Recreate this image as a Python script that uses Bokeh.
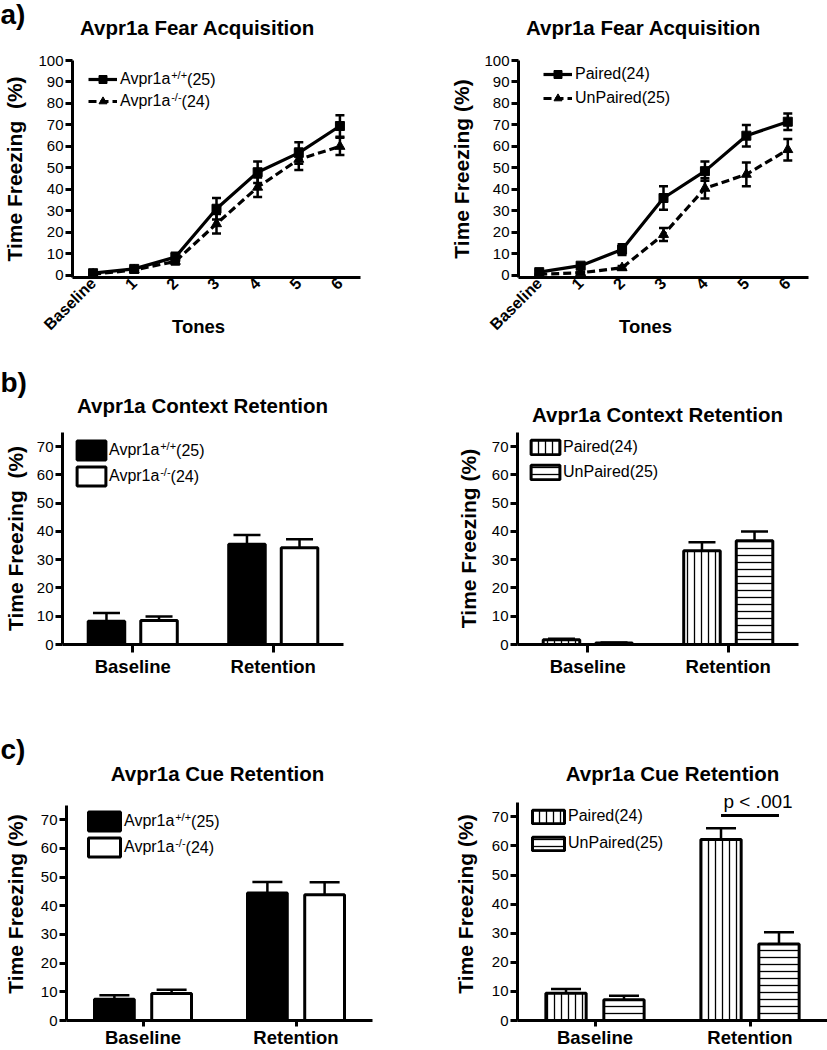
import math
from bokeh.plotting import figure
from bokeh.models import (ColumnDataSource, FactorRange, Range1d, Whisker, TeeHead,
                          Legend, LegendItem, Label)
from bokeh.transform import dodge
from bokeh.layouts import column, row
from bokeh.embed import file_html
from bokeh.resources import INLINE

# ---------------- data ----------------
tones = ["Baseline", "1", "2", "3", "4", "5", "6"]
acq_wt_mean = [1.0, 3.0, 8.5, 31.0, 48.0, 57.0, 69.5]
acq_wt_sem = [0.5, 1.0, 2.0, 5.0, 5.0, 5.0, 5.0]
acq_ko_mean = [0.5, 2.5, 6.5, 24.0, 41.0, 54.0, 60.0]
acq_ko_sem = [0.5, 1.0, 1.5, 4.5, 4.5, 5.0, 4.0]
acq_paired_mean = [1.5, 4.5, 12.0, 36.0, 48.5, 65.0, 71.5]
acq_paired_sem = [0.8, 1.0, 2.5, 5.5, 4.5, 5.0, 3.8]
acq_unpaired_mean = [0.5, 1.2, 3.5, 19.0, 40.5, 47.0, 58.5]
acq_unpaired_sem = [0.3, 0.5, 0.8, 3.0, 4.7, 5.5, 5.0]

phases = ["Baseline", "Retention"]
ctx_wt = [8.2, 35.5]
ctx_wt_sem = [2.9, 3.2]
ctx_ko = [8.5, 34.2]
ctx_ko_sem = [1.4, 3.0]
ctx_paired = [1.7, 33.2]
ctx_paired_sem = [0.3, 3.0]
ctx_unpaired = [0.5, 36.7]
ctx_unpaired_sem = [0.2, 3.3]
cue_wt = [7.4, 44.4]
cue_wt_sem = [1.4, 3.9]
cue_ko = [9.4, 43.8]
cue_ko_sem = [1.3, 4.4]
cue_paired = [9.4, 62.2]
cue_paired_sem = [1.4, 3.9]
cue_unpaired = [7.1, 26.3]
cue_unpaired_sem = [1.4, 4.0]

sig_phase = ["Retention"]
sig_level = [70.5]
sig_text = "p < .001"

wt_label = ("Avpr1a", "+/+", "(25)")
ko_label = ("Avpr1a", "-/-", "(24)")
paired_label = "Paired(24)"
unpaired_label = "UnPaired(25)"

titles_row1 = ["Avpr1a Fear Acquisition", "Avpr1a Fear Acquisition"]
titles_row2 = ["Avpr1a Context Retention", "Avpr1a Context Retention"]
titles_row3 = ["Avpr1a Cue Retention", "Avpr1a Cue Retention"]

NBSP = "\u00a0"
YLAB_WIDE = "Time Freezing" + NBSP + " (%)"
YLAB = "Time Freezing (%)"
XLAB_TONES = "Tones" + NBSP * 7   # trailing blanks shift the centred word left

FONT = "Liberation Sans"
LEG_FS = 16
SUP_FS = 11
ARIAL = {"A": 667, "v": 500, "p": 556, "r": 333, "1": 556, "a": 556, "+": 584,
         "/": 278, "-": 333}


def text_w(s, fs):
    return sum(ARIAL.get(c, 556) for c in s) * fs / 1000.0


def make_fig(width, height, xr, yr, mb):
    p = figure(width=width, height=height, x_range=xr, y_range=yr,
               output_backend="svg", toolbar_location=None,
               min_border_left=mb[0], min_border_right=mb[1],
               min_border_top=mb[2], min_border_bottom=mb[3])
    p.outline_line_color = None
    p.grid.visible = False
    p.background_fill_color = "white"
    p.border_fill_color = "white"
    for ax in (p.xaxis, p.yaxis):
        ax.axis_line_width = 3
        ax.axis_line_color = "black"
        ax.major_tick_line_width = 3
        ax.major_tick_line_color = "black"
        ax.major_tick_in = 0
        ax.minor_tick_line_color = None
        ax.major_label_text_font = FONT
        ax.major_label_text_color = "black"
        ax.axis_label_text_font = FONT
        ax.axis_label_text_font_style = "bold"
        ax.axis_label_text_color = "black"
    p.yaxis.major_tick_out = 7
    p.yaxis.major_label_standoff = 2
    p.yaxis.major_label_text_font_size = "15px"
    p.yaxis.axis_label_text_font_size = "21px"
    return p


def add_text(p, x, y, text, size, bold=False, align="center", baseline="middle"):
    p.add_layout(Label(x=x, y=y, x_units="screen", y_units="screen", text=text,
                       text_font=FONT, text_font_size=size,
                       text_font_style="bold" if bold else "normal",
                       text_align=align, text_baseline=baseline, text_color="black"))


def add_super_parts(p, text_x, row_y, parts):
    base, sup, tail = parts
    sx = text_x + text_w(base, LEG_FS)
    add_text(p, sx, row_y + 5, sup, f"{SUP_FS}px", align="left")
    add_text(p, sx + text_w(sup, SUP_FS), row_y, tail, f"{LEG_FS}px", align="left")


def strip(height, letter, letter_y, titles, title_pos):
    # a text band (frame covers the whole canvas); positions in pixels from the
    # band's top-left corner
    p = figure(width=827, height=height, x_range=Range1d(0, 827),
               y_range=Range1d(0, height), x_axis_type=None, y_axis_type=None,
               output_backend="svg", toolbar_location=None,
               min_border_left=0, min_border_right=0, min_border_top=0,
               min_border_bottom=0)
    p.outline_line_color = None
    p.grid.visible = False
    add_text(p, 0, height - letter_y, letter, "28px", bold=True, align="left")
    for t, (tx, ty) in zip(titles, title_pos):
        add_text(p, tx, height - ty, t, "20.5px", bold=True)
    return p


def line_panel(width, mb, series, ylabel, ylab_standoff, leg_pos, leg_spacing,
               super_labels=False):
    p = make_fig(width, 292, FactorRange(*tones), Range1d(-1, 100), mb)
    p.yaxis.ticker = list(range(0, 101, 10))
    p.yaxis.axis_label = ylabel
    p.yaxis.axis_label_standoff = ylab_standoff
    p.xaxis.major_tick_line_color = None
    p.xaxis.major_tick_out = 0
    p.xaxis.major_label_standoff = 3
    p.xaxis.major_label_orientation = math.pi / 4
    p.xaxis.major_label_text_font_size = "16px"
    p.xaxis.major_label_text_font_style = "bold"
    p.xaxis.axis_label = XLAB_TONES
    p.xaxis.axis_label_text_font_size = "18.5px"
    p.xaxis.axis_label_standoff = -26
    items = []
    for mean, sem, marker, dash, size, lab in series:
        src = ColumnDataSource(dict(tone=tones, m=mean,
                                    lo=[a - b for a, b in zip(mean, sem)],
                                    hi=[a + b for a, b in zip(mean, sem)]))
        p.add_layout(Whisker(source=src, base="tone", lower="lo", upper="hi",
                             line_width=2.5, line_color="black",
                             upper_head=TeeHead(size=9, line_width=2.5, line_color="black"),
                             lower_head=TeeHead(size=9, line_width=2.5, line_color="black")))
        lr = p.line("tone", "m", source=src, line_width=3.2, line_color="black",
                    line_dash=dash)
        sr = p.scatter("tone", "m", source=src, marker=marker, size=size,
                       fill_color="black", line_color="black")
        items.append(LegendItem(label=lab, renderers=[lr, sr]))
    leg = Legend(items=items, location=leg_pos, glyph_width=29, glyph_height=20,
                 label_height=10, label_standoff=3, spacing=leg_spacing, padding=0,
                 margin=0, border_line_color=None, background_fill_alpha=0,
                 label_text_font=FONT, label_text_font_size=f"{LEG_FS}px",
                 label_text_color="black")
    p.add_layout(leg)
    if super_labels:
        tx = leg_pos[0] + 29 + 3
        top = leg_pos[1] + 40 + leg_spacing
        add_super_parts(p, tx, top - 10, wt_label)
        add_super_parts(p, tx, top - 30 - leg_spacing, ko_label)
    return p


def bar_panel(width, height, mb, yr, a_vals, a_sem, b_vals, b_sem, styles, labels,
              ylabel, ylab_standoff, leg_pos, glyph, leg_spacing, cap, tick_out,
              lab_standoff, super_labels=False, sig=False):
    p = make_fig(width, height, FactorRange(*phases), Range1d(0, yr), mb)
    p.yaxis.ticker = list(range(0, 71, 10))
    p.yaxis.bounds = (0, 75)
    p.yaxis.axis_label = ylabel
    p.yaxis.axis_label_standoff = ylab_standoff
    p.xaxis.major_tick_out = tick_out
    p.xaxis.major_label_standoff = lab_standoff
    p.xaxis.major_label_text_font_size = "18.5px"
    p.xaxis.major_label_text_font_style = "bold"
    src = ColumnDataSource(dict(phase=phases, a=a_vals, b=b_vals,
                                a_hi=[v + s for v, s in zip(a_vals, a_sem)],
                                b_hi=[v + s for v, s in zip(b_vals, b_sem)]))
    off, bw = 0.187, 0.26
    rends = []
    for col, sgn, st in (("a", -1, styles[0]), ("b", 1, styles[1])):
        r = p.vbar(x=dodge("phase", sgn * off, range=p.x_range), top=col, width=bw,
                   source=src, line_color="black", line_width=3, **st)
        rends.append(r)
        p.add_layout(Whisker(source=src, base=dodge("phase", sgn * off, range=p.x_range),
                             lower=col, upper=col + "_hi", line_width=2.5,
                             line_color="black", lower_head=None,
                             upper_head=TeeHead(size=cap, line_width=2.5,
                                                line_color="black")))
    labs = [labels[0][0], labels[1][0]] if super_labels else labels
    leg = Legend(items=[LegendItem(label=labs[0], renderers=[rends[0]]),
                        LegendItem(label=labs[1], renderers=[rends[1]])],
                 location=leg_pos, glyph_width=glyph[0], glyph_height=glyph[1],
                 label_height=10, label_standoff=0, spacing=leg_spacing, padding=0,
                 margin=0, border_line_color=None, background_fill_alpha=0,
                 label_text_font=FONT, label_text_font_size=f"{LEG_FS}px",
                 label_text_color="black")
    p.add_layout(leg)
    if super_labels:
        tx = leg_pos[0] + glyph[0]
        top = leg_pos[1] + 2 * glyph[1] + leg_spacing
        add_super_parts(p, tx, top - glyph[1] / 2, labels[0])
        add_super_parts(p, tx, top - glyph[1] * 1.5 - leg_spacing, labels[1])
    if sig:
        ssrc = ColumnDataSource(dict(phase=sig_phase, y=sig_level))
        p.segment(x0=dodge("phase", -off, range=p.x_range), y0="y",
                  x1=dodge("phase", off, range=p.x_range), y1="y",
                  source=ssrc, line_width=3, line_color="black")
        p.add_layout(Label(x=phases.index(sig_phase[0]) + 0.5, y=sig_level[0],
                           x_offset=8, y_offset=3, text=sig_text, text_font=FONT,
                           text_font_size="19px", text_align="center",
                           text_baseline="bottom", text_color="black"))
    return p


HATCH_V = dict(fill_color="white", hatch_pattern="vertical_line", hatch_scale=7,
               hatch_weight=1.3, hatch_color="black")
HATCH_H = dict(fill_color="white", hatch_pattern="horizontal_line", hatch_scale=7,
               hatch_weight=1.3, hatch_color="black")
SOLID_B = dict(fill_color="black")
SOLID_W = dict(fill_color="white")

s1 = strip(48, "a)", 14, titles_row1, [(197, 27), (643, 27)])
pa1 = line_panel(410, (71, 50, 12, 63),
                 [(acq_wt_mean, acq_wt_sem, "square", "solid", 9, wt_label[0]),
                  (acq_ko_mean, acq_ko_sem, "triangle", "8 4", 10, ko_label[0])],
                 YLAB_WIDE, 9, (16, 166), 2, super_labels=True)
pa2 = line_panel(417, (108, 19, 12, 63),
                 [(acq_paired_mean, acq_paired_sem, "square", "solid", 9, paired_label),
                  (acq_unpaired_mean, acq_unpaired_sem, "triangle", "8 4", 10,
                   unpaired_label)],
                 YLAB, 8, (25, 169), 4)

s2 = strip(85, "b)", 382 - 340, titles_row2, [(202, 405 - 340), (657, 414 - 340)])
pb1 = bar_panel(410, 265, (61, 67, 7, 46), 75, ctx_wt, ctx_wt_sem, ctx_ko, ctx_ko_sem,
                (SOLID_B, SOLID_W), (wt_label, ko_label), YLAB_WIDE, 7,
                (11, 156), (36, 24), 2, 27, 8, 3, super_labels=True)
pb2 = bar_panel(417, 265, (107, 29, 7, 46), 75, ctx_paired, ctx_paired_sem,
                ctx_unpaired, ctx_unpaired_sem, (HATCH_V, HATCH_H),
                (paired_label, unpaired_label), YLAB, 9,
                (10, 163), (36, 18), 7, 27, 8, 3)

s3 = strip(95, "c)", 749 - 690, titles_row3, [(217, 773 - 690), (672, 773 - 690)])
pc1 = bar_panel(410, 265, (61, 38, 2, 27), 81.2, cue_wt, cue_wt_sem, cue_ko, cue_ko_sem,
                (SOLID_B, SOLID_W), (wt_label, ko_label), YLAB, 11,
                (18, 161), (40, 24), 2, 30, 6, 0, super_labels=True)
pc2 = bar_panel(417, 265, (107, 0, 2, 27), 80.1, cue_paired, cue_paired_sem,
                cue_unpaired, cue_unpaired_sem, (HATCH_V, HATCH_H),
                (paired_label, unpaired_label), YLAB, 12,
                (11, 168), (40, 17), 9, 30, 6, 0, sig=True)

layout = column(s1, row(pa1, pa2), s2, row(pb1, pb2), s3, row(pc1, pc2))
open("out.html", "w").write(file_html(layout, INLINE))
